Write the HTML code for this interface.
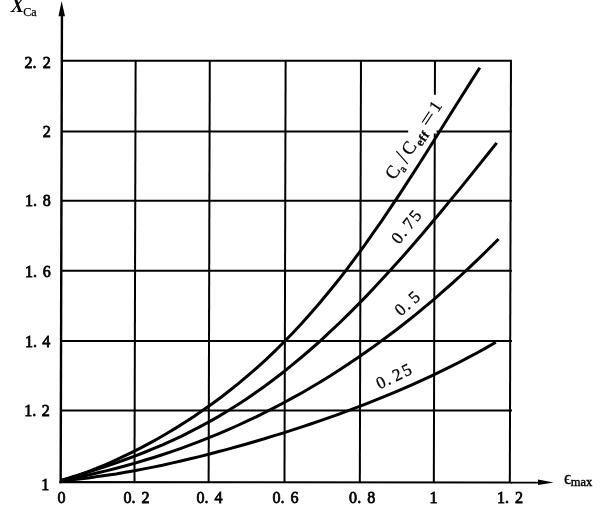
<!DOCTYPE html>
<html><head><meta charset="utf-8"><title>Chart</title>
<style>html,body{margin:0;padding:0;background:#fff;}svg{display:block;filter:grayscale(1);}</style></head>
<body>
<svg width="600" height="516" viewBox="0 0 600 516">
<rect width="600" height="516" fill="#fff"/>
<g stroke="#000" stroke-width="2" fill="none">
<path d="M61.3 60.8H511.97"/>
<path d="M61.3 131.5H408.2M436.6 131.5H511.97"/>
<path d="M61.3 200.8H511.97"/>
<path d="M61.3 270.75H511.97"/>
<path d="M61.3 341.1H511.97"/>
<path d="M61.3 410.6H511.97"/>
<path d="M135.62 60.8L134.48 482.1"/>
<path d="M209.77 60.8L208.63 482.1"/>
<path d="M285.62 60.8L284.48 482.1"/>
<path d="M360.97 60.8L359.83 482.1"/>
<path d="M434.97 60.8L434.88 94.7M434.77 133.5L433.83 482.1"/>
<path d="M510.97 60.8L509.83 482.1"/>
</g>
<g stroke="#000" fill="none">
<path d="M61.94 14L60.68 483.2" stroke-width="2.4"/>
<path d="M59.3 482.15L512 482.55" stroke-width="2.1"/>
<path d="M511 482.6L540 482.65" stroke-width="1.6"/>
</g>
<path d="M61.6 1 L65.0 16.3 L58.5 16.3Z" fill="#000"/>
<path d="M553.6 482.5 L538 479.6 L538 485Z" fill="#000"/>
<g stroke="#000" stroke-width="3" fill="none" stroke-linecap="butt" stroke-linejoin="round">
<polyline points="60.5,480.7 69.4,478.1 78.3,475.1 87.3,471.9 96.2,468.5 105.1,464.8 114.0,460.9 122.9,456.7 131.9,452.4 140.8,447.9 149.7,443.1 158.6,438.2 167.6,433.0 176.5,427.6 185.4,422.0 194.3,416.2 203.2,410.1 212.2,403.8 221.1,397.2 230.0,390.3 238.9,383.2 247.8,375.7 256.8,367.9 265.7,359.8 274.6,351.3 283.5,342.5 292.5,333.3 301.4,323.7 310.3,313.8 319.2,303.5 328.1,292.8 337.1,281.7 346.0,270.3 354.9,258.4 363.8,246.3 372.7,233.7 381.7,220.9 390.6,207.7 399.5,194.3 408.4,180.6 417.4,166.7 426.3,152.7 435.2,138.5 444.1,124.2 453.0,110.0 462.0,95.7 470.9,81.6 479.8,67.7"/>
<polyline points="60.5,480.7 69.8,477.8 79.1,475.0 88.3,472.1 97.6,469.1 106.9,466.0 116.2,462.8 125.5,459.5 134.7,456.1 144.0,452.5 153.3,448.7 162.6,444.8 171.9,440.6 181.2,436.3 190.4,431.7 199.7,426.9 209.0,421.9 218.3,416.6 227.6,411.0 236.8,405.2 246.1,399.2 255.4,392.8 264.7,386.2 274.0,379.3 283.2,372.2 292.5,364.7 301.8,357.0 311.1,349.0 320.4,340.8 329.6,332.2 338.9,323.5 348.2,314.4 357.5,305.1 366.8,295.6 376.0,285.8 385.3,275.8 394.6,265.6 403.9,255.2 413.2,244.5 422.5,233.7 431.7,222.8 441.0,211.7 450.3,200.4 459.6,189.1 468.9,177.6 478.1,166.1 487.4,154.5 496.7,142.9"/>
<polyline points="60.5,480.7 69.8,478.9 79.1,477.0 88.5,475.0 97.8,472.8 107.1,470.6 116.4,468.2 125.7,465.7 135.1,463.1 144.4,460.3 153.7,457.5 163.0,454.5 172.4,451.3 181.7,448.1 191.0,444.7 200.3,441.1 209.6,437.4 219.0,433.6 228.3,429.6 237.6,425.5 246.9,421.2 256.2,416.8 265.6,412.2 274.9,407.4 284.2,402.5 293.5,397.4 302.9,392.2 312.2,386.8 321.5,381.2 330.8,375.4 340.1,369.5 349.5,363.3 358.8,357.0 368.1,350.5 377.4,343.9 386.7,337.0 396.1,330.0 405.4,322.7 414.7,315.3 424.0,307.6 433.4,299.8 442.7,291.7 452.0,283.5 461.3,275.0 470.6,266.3 480.0,257.4 489.3,248.3 498.6,239.0"/>
<polyline points="60.5,480.7 69.8,479.9 79.0,478.9 88.3,477.9 97.5,476.6 106.8,475.3 116.1,473.9 125.3,472.3 134.6,470.7 143.9,468.9 153.1,467.1 162.4,465.2 171.6,463.1 180.9,461.0 190.2,458.8 199.4,456.6 208.7,454.3 217.9,451.8 227.2,449.4 236.5,446.8 245.7,444.2 255.0,441.5 264.3,438.8 273.5,435.9 282.8,433.1 292.0,430.1 301.3,427.1 310.6,424.0 319.8,420.8 329.1,417.6 338.4,414.3 347.6,410.9 356.9,407.4 366.1,403.8 375.4,400.2 384.7,396.4 393.9,392.6 403.2,388.6 412.4,384.6 421.7,380.4 431.0,376.1 440.2,371.7 449.5,367.2 458.8,362.5 468.0,357.7 477.3,352.7 486.5,347.6 495.8,342.3"/>
</g>
<g font-family="Liberation Serif, serif" font-size="17.5px" fill="#000" stroke="#000" stroke-width="0.8">
<text transform="translate(24.4 67.6) scale(.92 1)" text-anchor="start">2.</text>
<text transform="translate(50.7 67.6) scale(.92 1)" text-anchor="end">2</text>
<text transform="translate(50.7 136.6) scale(.92 1)" text-anchor="end">2</text>
<text transform="translate(24.9 205.7) scale(.92 1)" text-anchor="start">1.</text>
<text transform="translate(50.7 205.7) scale(.92 1)" text-anchor="end">8</text>
<text transform="translate(24.9 276.5) scale(.92 1)" text-anchor="start">1.</text>
<text transform="translate(50.7 276.5) scale(.92 1)" text-anchor="end">6</text>
<text transform="translate(24.9 347.3) scale(.92 1)" text-anchor="start">1.</text>
<text transform="translate(50.4 347.3) scale(.92 1)" text-anchor="end">4</text>
<text transform="translate(24.2 415.6) scale(.92 1)" text-anchor="start">1.</text>
<text transform="translate(49.9 415.6) scale(.92 1)" text-anchor="end">2</text>
<text transform="translate(49.4 490.4) scale(.92 1)" text-anchor="end">1</text>
<text transform="translate(61.6 502.8) scale(.92 1)" text-anchor="middle">0</text>
<text transform="translate(123.4 502.8) scale(.92 1)" text-anchor="start">0.</text>
<text transform="translate(149.6 502.8) scale(.92 1)" text-anchor="end">2</text>
<text transform="translate(196.4 502.8) scale(.92 1)" text-anchor="start">0.</text>
<text transform="translate(222.6 502.8) scale(.92 1)" text-anchor="end">4</text>
<text transform="translate(272.4 502.8) scale(.92 1)" text-anchor="start">0.</text>
<text transform="translate(298.6 502.8) scale(.92 1)" text-anchor="end">6</text>
<text transform="translate(349.09999999999997 502.8) scale(.92 1)" text-anchor="start">0.</text>
<text transform="translate(375.3 502.8) scale(.92 1)" text-anchor="end">8</text>
<text transform="translate(433.5 502.8) scale(.92 1)" text-anchor="middle">1</text>
<text transform="translate(496.9 502.8) scale(.92 1)" text-anchor="start">1.</text>
<text transform="translate(523.1 502.8) scale(.92 1)" text-anchor="end">2</text>
</g>
<text x="10.8" y="11.7" font-family="Liberation Serif, serif" font-size="20px" font-style="italic" font-weight="bold">X</text>
<text x="23.3" y="15.8" font-family="Liberation Serif, serif" font-size="12px" stroke="#000" stroke-width="0.25">Ca</text>
<text x="564" y="483.6" font-family="Liberation Serif, serif" font-size="18px" stroke="#000" stroke-width="0.3">ϵ</text>
<text x="570.8" y="486" font-family="Liberation Serif, serif" font-size="12.5px" stroke="#000" stroke-width="0.4">max</text>
<g transform="translate(392.6 172.3) rotate(-56.3)" font-family="Liberation Serif, serif" fill="#000" stroke="#000" stroke-width="0.3" text-anchor="middle"><text x="0" y="6.1" font-size="18.5px">C</text><text x="8.3" y="10.1" font-size="11px">a</text><path d="M19.8 -8.6L15.2 8.2" stroke="#000" stroke-width="1.1" fill="none"/><text x="29.3" y="6.1" font-size="18.5px">C</text><text x="44.6" y="10.1" font-size="12px" font-weight="bold" letter-spacing="0.6">eff</text><path d="M57.8 -3.1H70.8M57.8 0.7H70.8" stroke="#000" stroke-width="1.1" fill="none"/><text x="78.8" y="4.6" font-size="17.5px">1</text></g>
<g transform="translate(397.1 238.0) rotate(-51.3)" font-family="Liberation Serif, serif" fill="#000" stroke="#000" stroke-width="0.3" text-anchor="middle"><text x="0" y="5.8" font-size="17.2px">0</text><text x="7.7" y="5.8" font-size="17.2px">.</text><text x="18.5" y="5.8" font-size="17.2px">7</text><text x="28.9" y="5.8" font-size="17.2px">5</text></g>
<g transform="translate(400.2 309.5) rotate(-41.5)" font-family="Liberation Serif, serif" fill="#000" stroke="#000" stroke-width="0.3" text-anchor="middle"><text x="0" y="5.8" font-size="17.2px">0</text><text x="7.7" y="5.8" font-size="17.2px">.</text><text x="18.7" y="5.8" font-size="17.2px">5</text></g>
<g transform="translate(380.8 382.5) rotate(-25.8)" font-family="Liberation Serif, serif" fill="#000" stroke="#000" stroke-width="0.3" text-anchor="middle"><text x="0" y="5.8" font-size="17.2px">0</text><text x="7.7" y="5.8" font-size="17.2px">.</text><text x="18.0" y="5.8" font-size="17.2px">2</text><text x="28.7" y="5.8" font-size="17.2px">5</text></g>
</svg>
</body></html>
